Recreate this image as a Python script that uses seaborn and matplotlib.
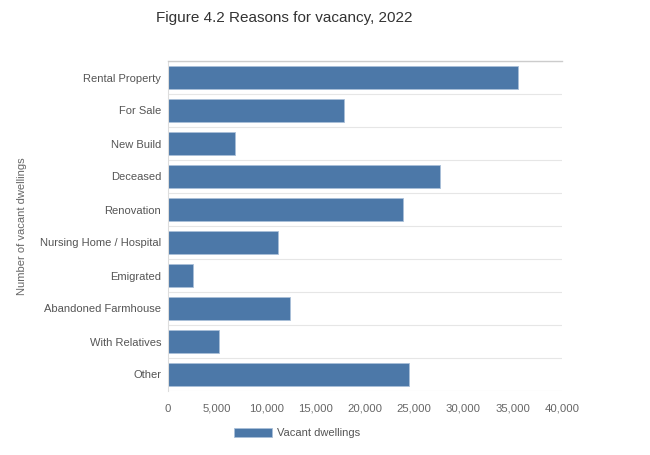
import matplotlib
matplotlib.use("Agg")
import matplotlib.pyplot as plt
import seaborn as sns
import pandas as pd
from matplotlib.patches import Patch

categories = ["Rental Property", "For Sale", "New Build", "Deceased", "Renovation",
              "Nursing Home / Hospital", "Emigrated", "Abandoned Farmhouse",
              "With Relatives", "Other"]
values = [35500, 17900, 6800, 27600, 23850, 11150, 2550, 12400, 5200, 24500]
xticks = [0, 5000, 10000, 15000, 20000, 25000, 30000, 35000, 40000]
xticklabels = ["0", "5,000", "10,000", "15,000", "20,000", "25,000", "30,000", "35,000", "40,000"]
series_name = "Vacant dwellings"

df = pd.DataFrame({"Reason": categories, "Count": values})

sns.set_style("white")
plt.rcParams["font.family"] = ["Liberation Sans", "DejaVu Sans"]

bar_color = "#4c78a8"
text_color = "#666666"

fig = plt.figure(figsize=(6.5, 4.55), dpi=100)
ax = fig.add_axes([168/650, 1-391/455, (562-168)/650, (391-61)/455])

sns.barplot(data=df, x="Count", y="Reason", orient="h", color=bar_color,
            saturation=1, width=0.72, edgecolor="#a9bfd8", linewidth=0.6, ax=ax)

ax.set_xlim(0, 40000)
ax.set_ylim(len(categories) - 0.5, -0.5)
ax.set_xticks(xticks)
ax.set_xticklabels(xticklabels, color=text_color, fontsize=8.2)
ax.tick_params(axis="x", length=0, pad=9)
ax.tick_params(axis="y", which="major", length=0, pad=5, labelcolor="#555555", labelsize=8)
ax.set_yticks([i - 0.5 for i in range(len(categories) + 1)], minor=True)
ax.tick_params(axis="y", which="minor", length=8, color="#dddddd", width=0.8)
ax.grid(axis="y", which="minor", color="#e6e6e6", linewidth=0.8)
ax.grid(axis="x", visible=False)
ax.set_axisbelow(True)

for s in ["right", "bottom"]:
    ax.spines[s].set_visible(False)
ax.spines["top"].set_color("#cccccc")
ax.spines["top"].set_linewidth(1.0)
ax.spines["left"].set_color("#dddddd")
ax.spines["left"].set_linewidth(0.8)

ax.set_xlabel("")
ax.set_ylabel("Number of vacant dwellings", color=text_color, fontsize=8)
ax.yaxis.set_label_coords(-141/394, 0.5)

fig.text(284/650, 1-18/455, "Figure 4.2 Reasons for vacancy, 2022", ha="center", va="center",
         fontsize=11, color="#333333")

handle = Patch(facecolor=bar_color, edgecolor="#a9bfd8", linewidth=0.6)
fig.legend([handle], [series_name], loc="center", bbox_to_anchor=(297/650, 1-433/455),
           frameon=False, fontsize=8, handlelength=3.4, handleheight=0.9,
           handletextpad=0.4, labelcolor="#555555")

fig.savefig("out.png", dpi=100)
